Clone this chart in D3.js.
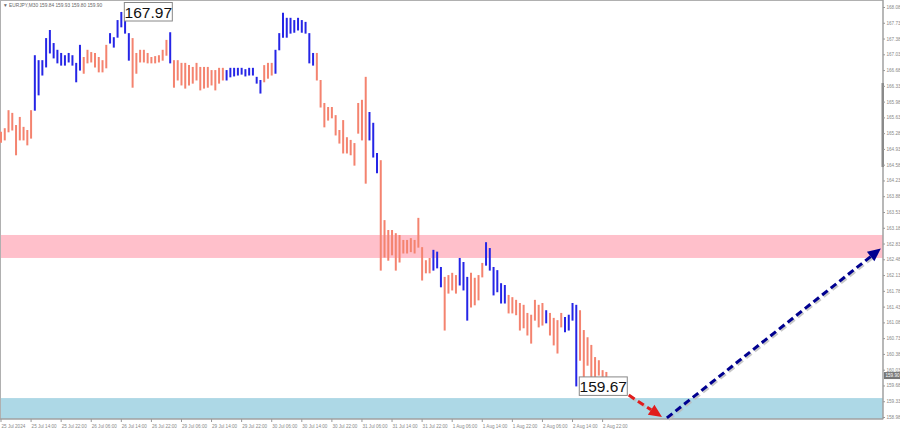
<!DOCTYPE html>
<html><head><meta charset="utf-8">
<script src="https://cdn.jsdelivr.net/npm/d3@7"></script>
<style>html,body{margin:0;padding:0;background:#fff;overflow:hidden}svg{display:block}</style>
</head><body>
<svg id="c" width="900" height="431"></svg>
<script>
// ---- data ----
const symbolTitle = "EURJPY,M30  159.84 159.93 159.80 159.90";
const currentPrice = 159.90;
const timeTickBars = [0,8,16,24,32,40,48,56,64,72,80,88,96,104,112,120,128,136,144,152,160];
const timeTickLabels = ["25 Jul 2024","25 Jul 14:00","25 Jul 22:00","26 Jul 06:00","26 Jul 14:00","26 Jul 22:00",
 "29 Jul 06:00","29 Jul 14:00","29 Jul 22:00","30 Jul 06:00","30 Jul 14:00","30 Jul 22:00","31 Jul 06:00",
 "31 Jul 14:00","31 Jul 22:00","1 Aug 06:00","1 Aug 14:00","1 Aug 22:00","2 Aug 06:00","2 Aug 14:00","2 Aug 22:00"];
const priceTicks = [168.08,167.73,167.38,167.03,166.68,166.33,165.98,165.63,165.28,164.93,164.58,164.23,163.88,
 163.53,163.18,162.83,162.48,162.13,161.78,161.43,161.08,160.73,160.38,160.03,159.68,159.33,158.98];
const highs = [165.31,165.39,165.79,165.73,165.46,165.64,165.42,165.35,165.79,167.01,
 166.90,166.90,167.39,167.57,167.28,167.13,167.06,167.01,167.06,167.01,
 166.84,167.24,166.97,167.13,167.08,167.06,166.97,166.90,167.24,167.50,
 167.41,167.79,167.97,167.90,167.50,167.39,167.06,167.13,167.13,167.06,
 166.97,166.99,167.01,167.13,167.35,167.52,166.90,166.90,166.84,166.84,
 166.79,166.75,166.84,166.75,166.75,166.75,166.68,166.68,166.73,166.73,
 166.68,166.73,166.73,166.73,166.73,166.70,166.73,166.73,166.53,166.46,
 166.79,166.84,166.84,167.13,167.50,167.95,167.84,167.84,167.79,167.84,
 167.79,167.75,167.50,167.06,167.06,166.46,165.95,165.86,165.86,165.68,
 165.35,165.57,165.19,165.13,165.06,165.95,166.02,166.53,165.75,165.51,
 164.84,164.68,163.35,163.13,163.13,163.06,163.02,162.91,162.91,162.95,
 162.91,163.40,162.75,162.46,162.51,162.69,162.65,162.31,162.09,162.13,
 162.18,162.13,162.51,162.42,162.09,162.18,162.07,162.13,162.40,162.86,
 162.73,162.31,162.24,161.95,161.91,161.69,161.64,161.58,161.51,161.47,
 161.29,161.25,161.58,161.47,161.51,161.35,161.29,161.18,161.13,161.29,
 161.20,161.25,161.51,161.47,161.35,160.91,160.75,160.58,160.31,160.24,
 160.02,159.98];
const lows = [165.08,165.13,165.31,165.35,164.80,165.13,165.13,165.02,165.17,165.79,
 166.13,166.57,166.75,167.06,166.95,166.84,166.79,166.79,166.86,166.79,
 166.42,166.68,166.61,166.84,166.86,166.75,166.64,166.64,166.73,167.28,
 167.19,167.41,167.64,167.50,166.90,166.30,166.61,166.86,166.86,166.84,
 166.84,166.84,166.86,166.90,167.01,166.84,166.30,166.46,166.35,166.28,
 166.35,166.39,166.46,166.24,166.28,166.30,166.35,166.24,166.39,166.46,
 166.46,166.53,166.55,166.57,166.59,166.55,166.57,166.57,166.39,166.17,
 166.42,166.50,166.57,166.61,167.13,167.41,167.41,167.50,167.52,167.57,
 167.52,167.50,166.84,166.79,166.46,165.86,165.42,165.57,165.62,165.24,
 165.06,164.84,164.84,164.80,164.57,165.28,165.13,164.17,165.13,164.75,
 164.40,162.24,162.53,162.46,162.58,162.24,162.42,162.62,162.62,162.65,
 162.62,162.75,162.02,162.18,162.18,162.24,162.29,161.87,160.91,161.73,
 161.80,161.73,161.91,161.80,161.13,161.42,161.47,161.58,162.09,162.35,
 162.24,161.69,161.76,161.51,161.51,161.29,161.29,161.25,160.91,160.96,
 160.80,160.62,161.13,160.98,161.02,161.07,160.80,160.58,160.40,160.98,
 160.87,160.91,161.13,159.67,160.24,159.87,160.13,159.80,159.87,159.91,
 159.80,159.80];
// wave segments (start bar of each wave), alternating kinds
const waveStarts = [0,9,22,29,35,45,46,60,70,73,84,98,101,115,118,122,125,129,135,145,146,150,154];
const waveKinds  = ["A","B","A","B","A","B","A","B","A","B","A","B","A","B","A","B","A","B","A","B","A","B","A"];
const zoneUpper = [162.51, 163.02];
const zoneLower = [158.93, 159.40];
const extremes = [{bar:32, price:167.97, label:"167.97", pos:"top"}, {bar:153, price:159.67, label:"159.67", pos:"bottom"}];
const forecastRed  = [{bar:164.5, price:159.60},{bar:175.8, price:158.98}];
const forecastBlue = [{bar:177.1, price:158.96},{bar:234.0, price:162.72}];

// ---- chart ----
const svg = d3.select("#c");
const plotL = 0, plotR = 883, plotT = 1, plotB = 419;
const x = d3.scaleLinear().domain([0,160]).range([1, 602.6]);
const y = d3.scaleLinear().domain([158.98,168.08]).range([417,7]);
const colorOf = {A:"#f4836f", B:"#2525e6"};
const kindAt = i => { let k = waveKinds[0]; waveStarts.forEach((s,j)=>{ if(i>=s) k = waveKinds[j]; }); return k; };
const FONT = "Liberation Sans, Arial";

// zones
svg.append("rect").attr("x",plotL+1).attr("width",plotR-plotL-1)
  .attr("y",y(zoneUpper[1])).attr("height",y(zoneUpper[0])-y(zoneUpper[1])).attr("fill","#ffc0cb");
svg.append("rect").attr("x",plotL+1).attr("width",plotR-plotL-1)
  .attr("y",y(zoneLower[1])).attr("height",plotB-y(zoneLower[1])).attr("fill","#add8e6");

// frame
svg.append("rect").attr("x",0.5).attr("y",0.5).attr("width",plotR-0.5).attr("height",plotB-0.5)
  .attr("fill","none").attr("stroke","#b0b0b0").attr("stroke-width",1);

// bars
svg.append("g").selectAll("line").data(highs.map((h,i)=>({i,h,l:lows[i]}))).join("line")
  .attr("x1",d=>x(d.i)).attr("x2",d=>x(d.i))
  .attr("y1",d=>y(d.h)).attr("y2",d=>y(d.l)+0.5)
  .attr("stroke",d=>colorOf[kindAt(d.i)]).attr("stroke-width",2);

// title
svg.append("text").attr("x",3).attr("y",7).attr("font-family",FONT).attr("font-size",4.8)
  .attr("fill","#666").text("\u25BC " + symbolTitle);

// right axis
const ax = svg.append("g").attr("transform",`translate(${plotR},0)`);
ax.append("line").attr("x1",0).attr("x2",0).attr("y1",0).attr("y2",plotB).attr("stroke","#999");
ax.append("rect").attr("x",-1.5).attr("y",83).attr("width",2.5).attr("height",84).attr("fill","#8a8a8a");
const yAxis = d3.axisRight(y).tickValues(priceTicks).tickFormat(d3.format(".2f")).tickSize(2).tickPadding(1.5);
const yg = ax.append("g").call(yAxis);
yg.select(".domain").remove();
yg.selectAll("line").attr("stroke","#999");
yg.selectAll("text").attr("font-family",FONT).attr("font-size",4.6).attr("fill","#888");
// current price marker
ax.append("rect").attr("x",1).attr("y",y(currentPrice)-3.5).attr("width",16).attr("height",7).attr("fill","#777");
ax.append("text").attr("x",2.5).attr("y",y(currentPrice)+1.7).attr("font-family",FONT)
  .attr("font-size",4.6).attr("fill","#fff").text(currentPrice.toFixed(2));

// bottom axis
const xg = svg.append("g").attr("transform",`translate(0,${plotB})`);
xg.append("line").attr("x1",0).attr("x2",plotR).attr("stroke","#999");
timeTickBars.forEach((b,k)=>{
  const px = x(b);
  xg.append("line").attr("x1",px).attr("x2",px).attr("y1",0).attr("y2",3).attr("stroke","#999");
  xg.append("text").attr("x",px+0.5).attr("y",8.5).attr("font-family",FONT).attr("font-size",4.6)
    .attr("fill","#888").text(timeTickLabels[k]);
});

// forecast arrows
function arrow(pts, color){
  const x1=x(pts[0].bar), y1=y(pts[0].price), x2=x(pts[1].bar), y2=y(pts[1].price);
  const ang=Math.atan2(y2-y1,x2-x1), hl=13, hw=6;
  const bx=x2-hl*Math.cos(ang), by=y2-hl*Math.sin(ang);
  const g=svg.append("g");
  g.append("line").attr("x1",x1+1.5).attr("y1",y1+1.5).attr("x2",bx+1.5).attr("y2",by+1.5)
    .attr("stroke","#bbb").attr("stroke-width",3).attr("stroke-dasharray","7,4").attr("opacity",0.8);
  g.append("line").attr("x1",x1).attr("y1",y1).attr("x2",bx).attr("y2",by)
    .attr("stroke",color).attr("stroke-width",3).attr("stroke-dasharray","7,4");
  const p=[[x2,y2],[bx+hw*Math.sin(ang),by-hw*Math.cos(ang)],[bx-hw*Math.sin(ang),by+hw*Math.cos(ang)]];
  g.append("polygon").attr("points",p.map(q=>q.join(",")).join(" ")).attr("fill",color);
}
arrow(forecastRed,"#e11c1c");
arrow(forecastBlue,"#000090");

// extreme labels
extremes.forEach(e=>{
  const bx = x(e.bar)+3;
  const by = e.pos==="top" ? 2.5 : y(e.price)-9;
  svg.append("rect").attr("x",bx).attr("y",by).attr("width",48).attr("height",18.5)
    .attr("fill","#fff").attr("stroke","#888").attr("stroke-width",1);
  svg.append("text").attr("x",bx+24).attr("y",by+15).attr("text-anchor","middle")
    .attr("font-family",FONT).attr("font-size",15.5).attr("fill","#111").text(e.label);
});
</script>
</body></html>
